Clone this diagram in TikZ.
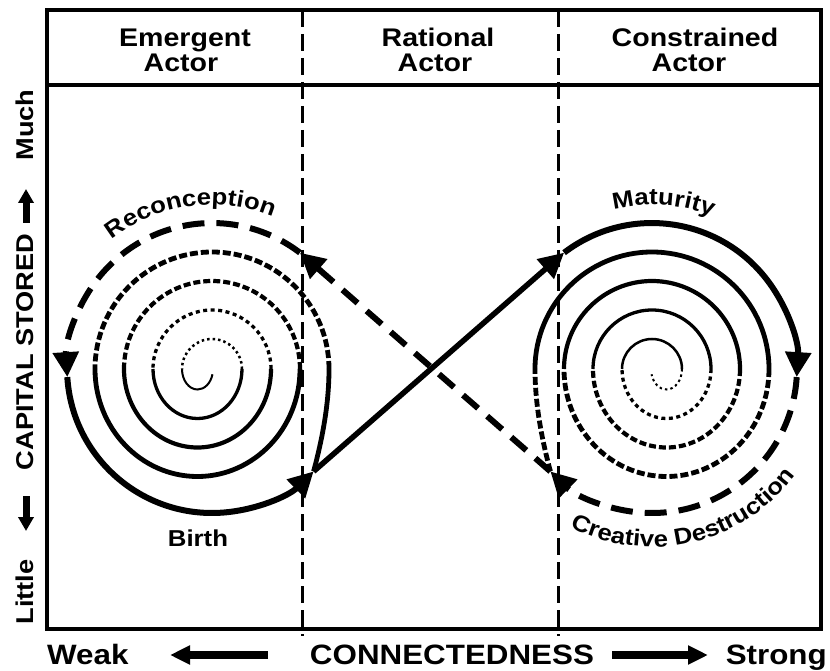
\documentclass[tikz,border=0pt]{standalone}
\usepackage{fontspec}
\setmainfont{Liberation Sans}
\newfontfamily\hv[FakeStretch=1.12]{Liberation Sans}
\usetikzlibrary{arrows.meta,decorations.text}
\newcommand\hdfont{\hv\bfseries\fontsize{25.5}{25.5}\selectfont}
\newcommand\lblfont{\hv\bfseries\fontsize{23}{23}\selectfont}
\newcommand\sidefont{\hv\bfseries\fontsize{24.3}{24.3}\selectfont}
\newcommand\btmfont{\hv\bfseries\fontsize{28}{28}\selectfont}
\begin{document}
\begin{tikzpicture}[x=1pt,y=-1pt,
  frame/.style={line width=3.5pt},
  divider/.style={line width=3pt, dash pattern=on 17pt off 7pt},
  head/.style={font=\hdfont, inner sep=0pt, anchor=base},
  sidelab/.style={font=\sidefont, inner sep=0pt, anchor=base, rotate=90},
  btmlab/.style={font=\btmfont, inner sep=0pt},
  lbl/.style={font=\lblfont, inner sep=0pt},
  tip/.style={-{Triangle[length=25pt,width=25pt]}},
  sidearrow/.style={line width=7pt, -{Triangle[length=14pt,width=15pt]}},
  btmarrow/.style={line width=8pt, -{Triangle[length=20pt,width=18pt]}},
  outersolid/.style={line width=6pt},
  outerdash/.style={line width=6pt, dash pattern=on 22pt off 12pt},
  diagsolid/.style={line width=5.5pt},
  diagdash/.style={line width=6pt, dash pattern=on 20pt off 12pt},
  wA/.style={line width=4.8pt}, wB/.style={line width=4.2pt},
  wC/.style={line width=3.3pt}, wD/.style={line width=2.5pt}, wE/.style={line width=2pt},
  dA/.style={dash pattern=on 8pt off 3pt}, dB/.style={dash pattern=on 7pt off 3pt},
  dC/.style={dash pattern=on 4pt off 3.5pt}, dD/.style={dash pattern=on 2.5pt off 3pt},
  curve/.style={decorate, decoration={text along path, text align=center, text={#1}}}
]
\useasboundingbox (0,0) rectangle (830,671);

% frame and dividers
\coordinate (tl) at (47,10); \coordinate (br) at (821,629);
\draw[frame] (tl) rectangle (br);
\coordinate (hl) at (47,85); \coordinate (hr) at (821,85);
\draw[frame] (hl) -- (hr);
\coordinate (d1t) at (302,10); \coordinate (d1b) at (302,636);
\coordinate (d2t) at (558,10); \coordinate (d2b) at (558,636);
\draw[divider] (d1t) -- (d1b);
\draw[divider] (d2t) -- (d2b);

% headers
\node[head] (h1a) at (185,47) {Emergent};
\node[head] (h1b) at (181,72) {Actor};
\node[head] (h2a) at (438,47) {Rational};
\node[head] (h2b) at (435,72) {Actor};
\node[head] (h3a) at (695,47) {Constrained};
\node[head] (h3b) at (689,72) {Actor};

% vertical axis labels
\node[sidelab] (much) at (33,125) {Much};
\node[sidelab] (cap) at (33,352) {CAPITAL STORED};
\node[sidelab] (little) at (33,592) {Little};
\coordinate (ua0) at (26,223); \coordinate (ua1) at (26,189);
\draw[sidearrow] (ua0) -- (ua1);
\coordinate (da0) at (26,496); \coordinate (da1) at (26,531);
\draw[sidearrow] (da0) -- (da1);

% horizontal axis labels
\node[btmlab, anchor=base west] (weak) at (47,664) {Weak};
\node[btmlab, anchor=base] (conn) at (452,664) {CONNECTEDNESS};
\node[btmlab, anchor=base east] (strong) at (827,664) {Strong};
\coordinate (la0) at (268,655); \coordinate (la1) at (170,655);
\draw[btmarrow] (la0) -- (la1);
\coordinate (ra0) at (612,655); \coordinate (ra1) at (708,655);
\draw[btmarrow] (ra0) -- (ra1);

% key points of the figure eight
\coordinate (Lc) at (212,368);
\coordinate (Rc) at (652,368);
\coordinate (recS) at (299.9,252.7);
\coordinate (birthS) at (67.3,377.1);
\coordinate (birthE) at (313.6,471.4);
\coordinate (matS) at (564.1,252.7);
\coordinate (cdS) at (796.7,377.1);
\coordinate (cdE) at (550.4,471.4);

% left spiral (upper halves dashed, lower halves solid)
\draw[wA] (birthE) .. controls (322,440) and (329,405) .. (329,369) coordinate (l0);
\draw[wA,dA] (l0) arc (0:-180:117) coordinate (l1);
\draw[wA] (l1) arc (180:0:102.5 and 107.5) coordinate (l2);
\draw[wB,dB] (l2) arc (0:-180:88) coordinate (l3);
\draw[wB] (l3) arc (180:0:73.5 and 78.5) coordinate (l4);
\draw[wC,dC] (l4) arc (0:-180:59) coordinate (l5);
\draw[wC] (l5) arc (180:0:44.5 and 49.5) coordinate (l6);
\draw[wD,dD] (l6) arc (0:-180:30) coordinate (l7);
\draw[wE] (l7) arc (180:15:15.5 and 20.5);

% right spiral (upper halves solid, lower halves dashed)
\draw[wA,dA] (cdE) .. controls (542,440) and (535,405) .. (535,369) coordinate (r0);
\draw[wA] (r0) arc (180:360:117) coordinate (r1);
\draw[wA,dA] (r1) arc (0:180:102.5 and 107.5) coordinate (r2);
\draw[wB] (r2) arc (180:360:88) coordinate (r3);
\draw[wB,dB] (r3) arc (0:180:73.5 and 78.5) coordinate (r4);
\draw[wC] (r4) arc (180:360:59) coordinate (r5);
\draw[wC,dC] (r5) arc (0:180:44.5 and 49.5) coordinate (r6);
\draw[wD] (r6) arc (180:360:30) coordinate (r7);
\draw[wE,dD] (r7) arc (0:165:15.5 and 20.5);

% outer loops
\draw[outerdash, tip] (recS) arc (-52.7:-183.6:145);
\draw[outersolid, tip] (birthS) arc (176.4:45.5:145);
\draw[outersolid, tip] (matS) arc (-127.3:3.6:145);
\draw[outerdash, tip] (cdS) arc (3.6:134.5:145);

% diagonals
\draw[diagsolid, tip] (birthE) -- (matS);
\draw[diagdash, tip] (cdE) -- (recS);

% curve labels
\path[curve={|\lblfont|Reconception}] ([shift={(-158:163)}]Lc) arc (-158:-38:163);
\path[curve={|\lblfont|Maturity}] ([shift={(-146:163)}]Rc) arc (-146:-26:163);
\path[curve={|\lblfont|Creative Destruction}] ([shift={(137:179)}]Rc) arc (137:17:179);
\node[lbl, anchor=base] (birth) at (198,546) {Birth};
\end{tikzpicture}
\end{document}
